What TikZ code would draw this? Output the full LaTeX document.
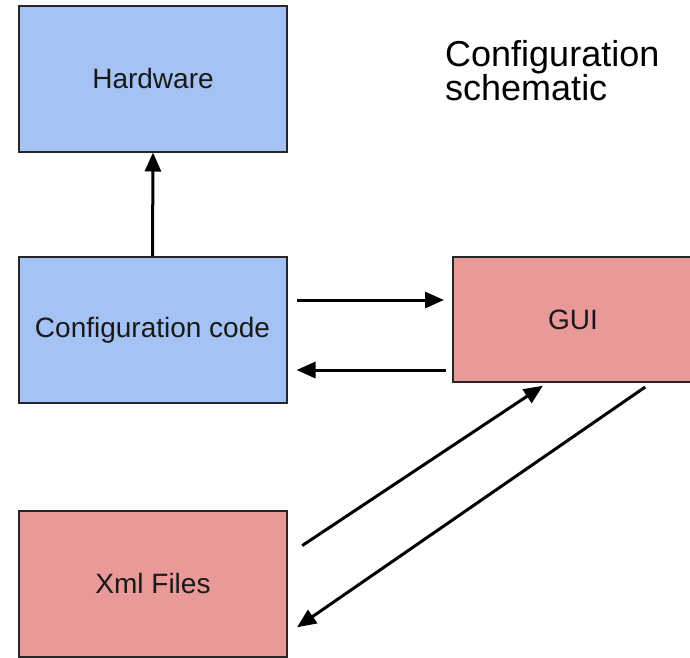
\documentclass[tikz,border=0pt]{standalone}
\usepackage{fontspec}
\setmainfont{Liberation Sans}
\usepackage{xcolor}
\usetikzlibrary{arrows.meta,positioning,calc}

\definecolor{hwblue}{HTML}{A4C2F4}
\definecolor{guired}{HTML}{EA9999}

\begin{document}
\begin{tikzpicture}[
  x=1pt, y=-1pt,
  >={Triangle[length=19pt,width=16pt]},
  box/.style={draw=black!85, line width=2pt, minimum width=268pt, minimum height=146pt,
    inner sep=0pt, font=\fontsize{28}{32}\selectfont, text=black!90},
  bluebox/.style={box, fill=hwblue},
  redbox/.style={box, fill=guired},
  arr/.style={->, line width=3pt, color=black},
]
\useasboundingbox (0,0) rectangle (690,657);

% Left column
\node[bluebox] (hw) at (153,78.5) {Hardware};
\node[bluebox] (config) at (152.5,330) {Configuration code};
\node[redbox] (xml) at (153,583.5) {Xml Files};

% GUI, running off the right edge
\node[redbox, minimum width=240pt, minimum height=125pt] (gui) at (573,319.5) {GUI};

% Title
\node[anchor=base west, align=left, inner sep=0pt,
  font=\fontsize{36}{34}\selectfont] (title) at (445,100) {Configuration\\schematic};

% Arrows
\draw[arr] (config.north) -- (hw.south);
\draw[arr, shorten <=9pt, shorten >=8pt]
  ([yshift=30pt]config.east) -- ([yshift=30pt]config.east -| gui.west);
\draw[arr, shorten <=6pt, shorten >=9pt]
  ([yshift=-40pt]config.east -| gui.west) -- ([yshift=-40pt]config.east);
\draw[arr, shorten <=17pt, shorten >=5pt]
  ([yshift=28.5pt]xml.east) -- ([xshift=-26pt]gui.south);
\draw[arr, shorten <=7pt, shorten >=11pt]
  ([xshift=78pt]gui.south) -- ([yshift=-50pt]xml.east);
\end{tikzpicture}
\end{document}
